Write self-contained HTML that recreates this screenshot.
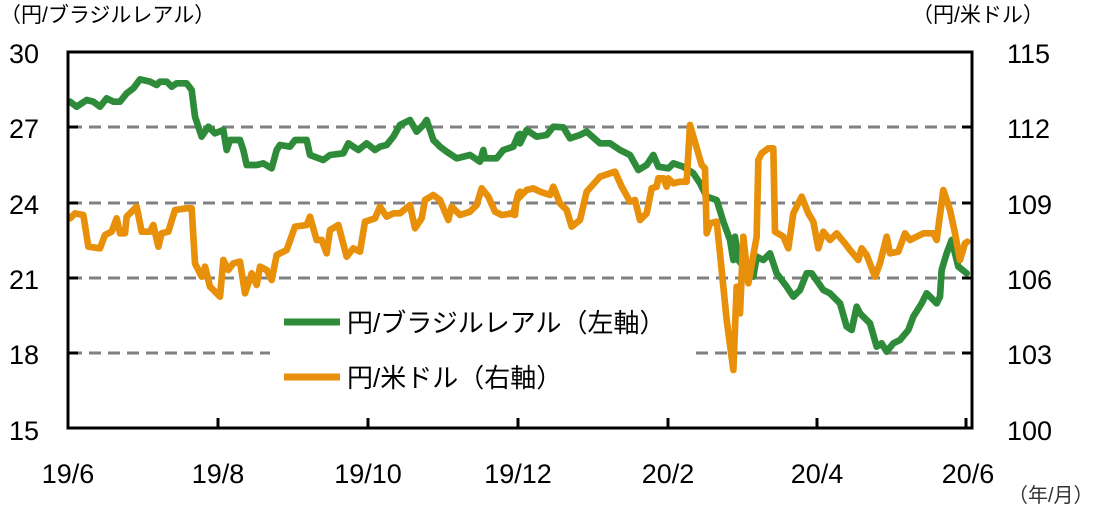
<!DOCTYPE html>
<html><head><meta charset="utf-8"><style>
body{margin:0;background:#fff;}
svg text{font-family:"Liberation Sans","Noto Sans CJK JP",sans-serif;fill:#000;}
</style></head><body>
<svg width="1096" height="511" viewBox="0 0 1096 511">
<g stroke="#808080" stroke-width="3" stroke-dasharray="12,7">
<line x1="70" y1="127" x2="970" y2="127"/>
<line x1="70" y1="203" x2="970" y2="203"/>
<line x1="70" y1="278" x2="970" y2="278"/>
<line x1="70" y1="353" x2="270" y2="353"/>
<line x1="696" y1="353" x2="970" y2="353"/>
</g>
<g fill="none" stroke-linejoin="round" stroke-linecap="round">
<g transform="translate(60,40) scale(0.33333)" stroke-width="20">
<polyline stroke="#2e8b3a" points="30,185 50,200 80,180 100,185 120,200 140,175 160,185 180,185 200,160 220,145 240,118 270,125 290,135 300,125 320,125 335,140 350,130 380,130 395,150 405,230 425,290 445,260 465,280 490,270 500,330 510,300 540,300 550,330 560,375 590,375 610,370 635,385 650,330 660,315 690,320 705,300 740,300 750,345 790,360 810,345 850,340 865,310 895,330 920,310 945,330 960,320 980,315 1000,290 1020,255 1050,240 1070,275 1090,255 1100,240 1120,300 1140,320 1160,335 1190,355 1230,345 1260,365 1270,330 1275,355 1310,355 1330,330 1360,320 1375,285 1380,282"/>
<polyline stroke="#e8900a" points="30,535 45,520 70,525 85,620 120,625 135,585 155,575 170,535 180,580 195,580 200,530 230,500 245,575 270,575 280,555 295,620 305,580 325,575 345,510 380,505 395,505 405,670 425,710 435,680 450,740 480,770 490,660 505,690 520,670 540,665 555,760 575,700 590,735 600,680 620,690 635,720 650,645 680,630 705,560 740,555 750,530 770,600 785,600 800,640 810,570 835,555 860,650 880,625 900,635 915,545 945,535 960,500 980,530 1000,520 1020,520 1050,495 1065,565 1085,535 1095,480 1120,465 1140,480 1165,540 1175,500 1200,525 1230,515 1250,495 1265,445 1285,470 1305,515 1325,525 1360,520 1375,460 1380,455"/>
</g>
<g transform="translate(510,40) scale(0.33333)" stroke-width="20">
<polyline stroke="#2e8b3a" points="30,310 50,270 80,290 110,285 130,260 160,262 180,295 210,285 230,275 270,310 300,310 330,330 360,345 385,390 410,375 430,345 445,380 475,385 490,370 520,380 550,400 570,430 590,470 620,480 640,545 660,600 670,660 675,590 685,660 700,680 730,710 740,650 760,660 780,640 800,700 830,740 850,770 870,750 890,700 905,700 940,750 960,760 990,790 1010,860 1025,870 1040,800 1050,820 1080,850 1100,920 1115,910 1130,935 1150,910 1170,900 1195,870 1210,830 1235,790 1250,760 1260,770 1280,790 1290,770 1295,690 1310,640 1325,600 1345,680 1370,700"/>
<polyline stroke="#e8900a" points="0,520 15,525 20,480 50,450 70,445 90,455 120,465 130,440 150,490 170,510 185,560 210,540 230,455 270,410 300,400 315,395 335,440 360,485 375,480 390,540 410,520 425,445 440,440 445,415 460,415 470,440 475,415 490,430 510,425 530,425 540,255 575,375 585,385 590,580 600,550 620,545 630,640 650,840 670,990 680,740 690,820 700,590 715,730 740,590 745,360 755,340 775,325 790,325 795,575 820,590 835,625 850,520 875,470 895,520 910,545 925,625 940,575 960,600 980,580 1005,610 1020,630 1045,660 1055,625 1070,645 1095,710 1110,670 1130,590 1140,640 1165,635 1185,580 1200,600 1240,580 1270,580 1280,600 1300,450 1320,510 1335,580 1350,660 1365,610 1372,605"/>
</g>
</g>
<rect x="68" y="52" width="904" height="376" fill="none" stroke="#000" stroke-width="3"/>
<g stroke="#000" stroke-width="3">
<line x1="68" y1="127" x2="78" y2="127"/><line x1="68" y1="203" x2="78" y2="203"/><line x1="68" y1="278" x2="78" y2="278"/><line x1="68" y1="353" x2="78" y2="353"/>
<line x1="962" y1="127" x2="972" y2="127"/><line x1="962" y1="203" x2="972" y2="203"/><line x1="962" y1="278" x2="972" y2="278"/><line x1="962" y1="353" x2="972" y2="353"/>
<line x1="218" y1="418" x2="218" y2="428"/><line x1="368" y1="418" x2="368" y2="428"/><line x1="518" y1="418" x2="518" y2="428"/><line x1="668" y1="418" x2="668" y2="428"/><line x1="817" y1="418" x2="817" y2="428"/><line x1="966" y1="418" x2="966" y2="428"/>
</g>
<g font-size="27" text-anchor="end">
<text x="39" y="63">30</text><text x="39" y="138">27</text><text x="39" y="214">24</text><text x="39" y="289">21</text><text x="39" y="364">18</text><text x="39" y="440">15</text>
</g>
<g font-size="27" text-anchor="start">
<text x="1007" y="63">115</text><text x="1007" y="138">112</text><text x="1007" y="214">109</text><text x="1007" y="289">106</text><text x="1007" y="364">103</text><text x="1007" y="440">100</text>
</g>
<g font-size="27" text-anchor="middle">
<text x="68" y="483">19/6</text><text x="218" y="483">19/8</text><text x="368" y="483">19/10</text><text x="518" y="483">19/12</text><text x="668" y="483">20/2</text><text x="817" y="483">20/4</text><text x="968" y="483">20/6</text>
</g>
<text x="0" y="22" font-size="21">（円/ブラジルレアル）</text>
<text x="912" y="22" font-size="21">（円/米ドル）</text>
<text x="1008" y="502" font-size="20" style="fill:#333">（年/月）</text>
<line x1="284" y1="322" x2="340" y2="322" stroke="#2e8b3a" stroke-width="7"/>
<text x="347" y="332" font-size="26">円/ブラジルレアル（左軸）</text>
<line x1="284" y1="377" x2="340" y2="377" stroke="#e8900a" stroke-width="7"/>
<text x="347" y="387" font-size="26">円/米ドル（右軸）</text>
</svg>
</body></html>
